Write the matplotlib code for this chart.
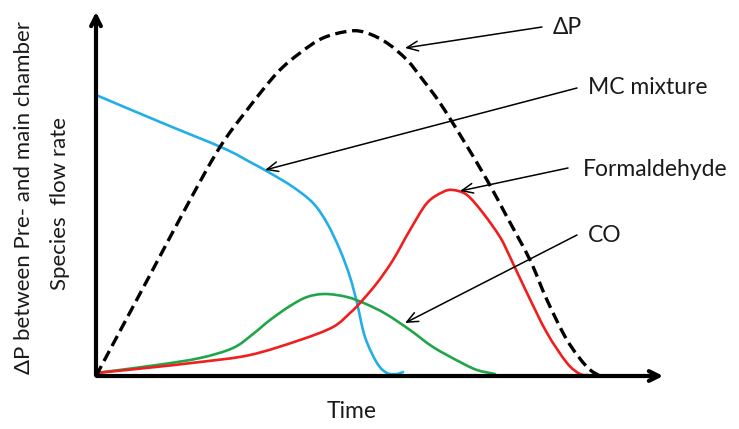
import matplotlib.pyplot as plt
from matplotlib.path import Path
from matplotlib.patches import PathPatch

plt.rcParams["font.family"] = ["Lato", "DejaVu Sans"]

dp_t = [0, 24, 54, 94, 124, 151, 181, 204, 227, 254, 271, 291, 311, 327, 344, 366, 391, 411, 434, 451, 471, 491, 504]
dp_v = [0, 45, 101, 176, 229, 266, 303, 323, 338, 345, 343, 333, 316, 296, 273, 238, 196, 159, 116, 76, 36, 9, 0]

mc_t = [0, 64, 127, 154, 174, 197, 217, 231, 244, 254, 261, 269, 281, 291, 301, 307]
mc_v = [281, 254, 228, 214, 203, 189, 173, 153, 126, 99, 73, 39, 13, 3, 2, 4]

co_t = [0, 61, 104, 137, 157, 174, 194, 211, 229, 251, 270, 290, 314, 337, 364, 381, 399]
co_v = [3, 11, 18, 28, 42, 56, 70, 79, 82, 79, 72, 62, 46, 29, 14, 6, 2]

hcho_t = [0, 50, 104, 154, 204, 237, 254, 264, 281, 297, 314, 331, 347, 357, 371, 387, 404, 414, 431, 451, 471, 484, 492]
hcho_v = [3, 8, 14, 21, 36, 49, 63, 73, 93, 116, 146, 173, 184, 186, 181, 163, 139, 119, 83, 43, 13, 2, 1]

labels = ["ΔP", "MC mixture", "Formaldehyde", "CO"]
label_pos = [(457, 348), (492, 288), (487, 206), (492, 141)]
arrow_tail = [(446, 349), (481, 288), (472, 208), (481, 141)]
arrow_head = [(309, 328), (169, 206), (364, 185), (309, 53)]


def smooth_path(xs, ys):
    # curve through the read points (Catmull-Rom as cubic Bezier segments)
    pts = list(zip(xs, ys))
    verts = [pts[0]]
    codes = [Path.MOVETO]
    for i in range(len(pts) - 1):
        p0 = pts[i - 1] if i > 0 else pts[i]
        p1, p2 = pts[i], pts[i + 1]
        p3 = pts[i + 2] if i + 2 < len(pts) else pts[i + 1]
        c1 = (p1[0] + (p2[0] - p0[0]) / 6, p1[1] + (p2[1] - p0[1]) / 6)
        c2 = (p2[0] - (p3[0] - p1[0]) / 6, p2[1] - (p3[1] - p1[1]) / 6)
        verts += [c1, c2, p2]
        codes += [Path.CURVE4] * 3
    return Path(verts, codes)


fig = plt.figure(figsize=(7.39, 4.29), dpi=100)
ax = fig.add_axes([0, 0, 1, 1])
ax.set_xlim(-96, 643)
ax.set_ylim(-53, 376)
ax.axis("off")

for xs, ys, col in [(mc_t, mc_v, "#22AEE6"), (co_t, co_v, "#1FA64A"), (hcho_t, hcho_v, "#F01E1E")]:
    ax.add_patch(PathPatch(smooth_path(xs, ys), fill=False, edgecolor=col, lw=1.9,
                           capstyle="round", joinstyle="round"))
ax.add_patch(PathPatch(smooth_path(dp_t, dp_v), fill=False, edgecolor="black", lw=2.4,
                       linestyle=(0, (3.4, 1.7))))

# axes with arrow heads
ax.annotate("", xy=(0, 367), xytext=(0, -2),
            arrowprops=dict(arrowstyle="->,head_length=0.7,head_width=0.35", lw=3, color="black"))
ax.annotate("", xy=(570, 0), xytext=(-2, 0),
            arrowprops=dict(arrowstyle="->,head_length=0.7,head_width=0.35", lw=3, color="black"))

for lab, lp, tail, head in zip(labels, label_pos, arrow_tail, arrow_head):
    ax.text(lp[0], lp[1], lab, fontsize=16.5, va="center", ha="left", color="#1a1a1a")
    ax.annotate("", xy=head, xytext=tail,
                arrowprops=dict(arrowstyle="->,head_length=0.8,head_width=0.35", lw=1.1,
                                color="black", shrinkA=0, shrinkB=0))

ax.text(256, -36, "Time", fontsize=16.5, ha="center", va="center", color="#1a1a1a")
ax.text(-72, 179, "ΔP between Pre- and main chamber", fontsize=16, rotation=90,
        ha="center", va="center", color="#1a1a1a")
ax.text(-36, 173, "Species  flow rate", fontsize=16, rotation=90,
        ha="center", va="center", color="#1a1a1a")

fig.savefig("out.png", dpi=100)
